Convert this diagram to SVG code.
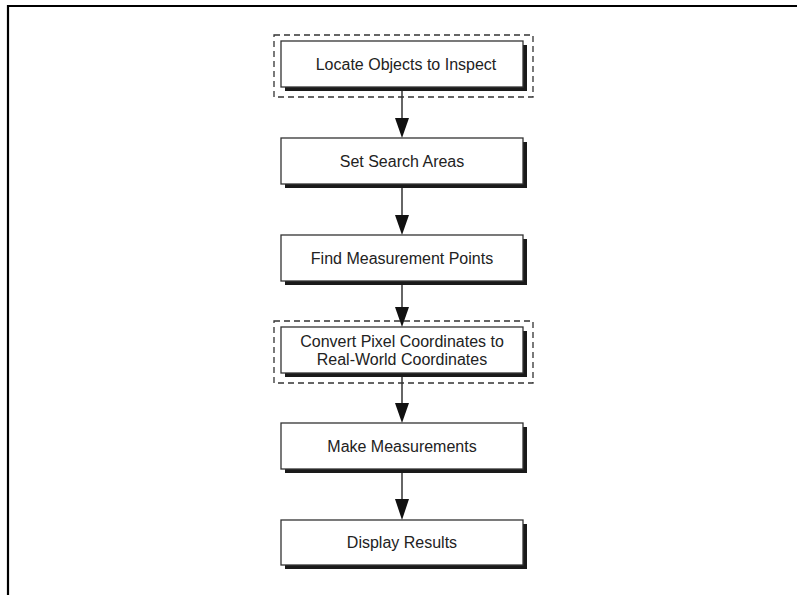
<svg xmlns="http://www.w3.org/2000/svg" width="797" height="595" viewBox="0 0 797 595">
<style>
.box{fill:#fff;stroke:#333;stroke-width:1.3}
.shadow{fill:#1a1a1a}
.dash{fill:none;stroke:#333;stroke-width:1.3;stroke-dasharray:6 4}
.lbl{font-family:"Liberation Sans",Arial,sans-serif;font-size:16px;fill:#222;text-anchor:middle}
.conn{stroke:#333;stroke-width:1.5;fill:none}
.head{fill:#111}
</style>
<rect width="797" height="595" fill="#fff"/>
<path d="M8,595 V6 H797" fill="none" stroke="#000" stroke-width="2.2"/>
<g id="connectors">
<line class="conn" x1="402" y1="87" x2="402" y2="120"/><polygon class="head" points="395,118 409,118 402,138"/>
<line class="conn" x1="402" y1="184" x2="402" y2="217"/><polygon class="head" points="395,215 409,215 402,235"/>
<line class="conn" x1="402" y1="281" x2="402" y2="309"/><polygon class="head" points="395,307 409,307 402,327"/>
<line class="conn" x1="402" y1="373" x2="402" y2="405"/><polygon class="head" points="395,403 409,403 402,423"/>
<line class="conn" x1="402" y1="469" x2="402" y2="501"/><polygon class="head" points="395,499 409,499 402,520"/>
</g>
<g id="n1">
<rect class="dash" x="274" y="35" width="259" height="62"/>
<rect class="shadow" x="285" y="45" width="242" height="46"/>
<rect class="box" x="281" y="41" width="242" height="46"/>
<text class="lbl" x="406" y="70">Locate Objects to Inspect</text>
</g>
<g id="n2">
<rect class="shadow" x="285" y="142" width="242" height="46"/>
<rect class="box" x="281" y="138" width="242" height="46"/>
<text class="lbl" x="402" y="167">Set Search Areas</text>
</g>
<g id="n3">
<rect class="shadow" x="285" y="239" width="242" height="46"/>
<rect class="box" x="281" y="235" width="242" height="46"/>
<text class="lbl" x="402" y="264">Find Measurement Points</text>
</g>
<g id="n4">
<rect class="dash" x="274" y="321" width="259" height="62"/>
<rect class="shadow" x="285" y="331" width="242" height="46"/>
<rect class="box" x="281" y="327" width="242" height="46"/>
<text class="lbl" x="402" y="347">Convert Pixel Coordinates to</text>
<text class="lbl" x="402" y="365">Real-World Coordinates</text>
</g>
<g id="n5">
<rect class="shadow" x="285" y="427" width="242" height="46"/>
<rect class="box" x="281" y="423" width="242" height="46"/>
<text class="lbl" x="402" y="452">Make Measurements</text>
</g>
<g id="n6">
<rect class="shadow" x="285" y="524" width="242" height="45"/>
<rect class="box" x="281" y="520" width="242" height="45"/>
<text class="lbl" x="402" y="548">Display Results</text>
</g>
</svg>
